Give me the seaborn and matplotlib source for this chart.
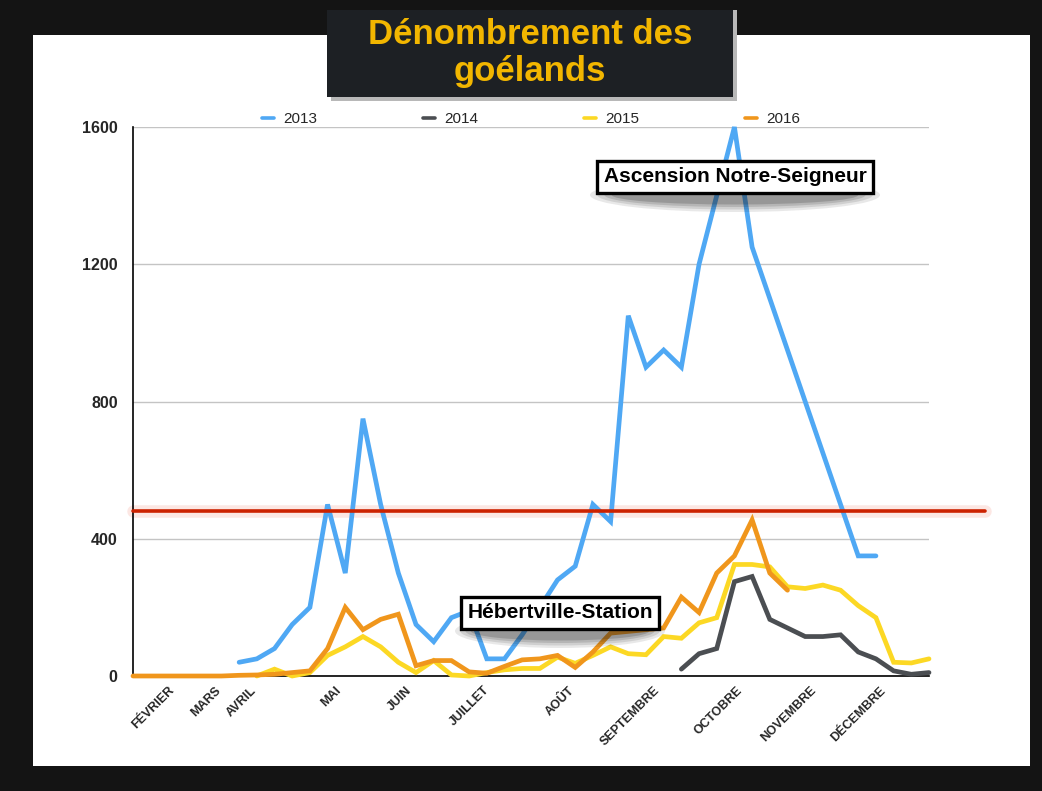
import numpy as np
import pandas as pd
import matplotlib
matplotlib.use("Agg")
import matplotlib.pyplot as plt
from matplotlib.patches import Rectangle, Ellipse
import seaborn as sns

# weekly counts, index 0 = first week of February
nan = np.nan
weeks = list(range(46))
counts_2013 = [nan] * 6 + [40, 50, 80, 150, 200, 500, 300, 750, 500, 300, 150, 100, 170, 190,
                           50, 50, 120, 200, 280, 320, 500, 450, 1050, 900, 950, 900, 1200, 1400,
                           1600, 1250, 1100, 950, 800, 650, 500, 350, 350] + [nan] * 3
counts_2014 = [nan] * 31 + [20, 65, 80, 275, 290, 165, 140, 115, 115, 120, 70, 50, 15, 5, 10]
counts_2015 = [nan] * 7 + [0, 20, 0, 10, 60, 85, 115, 85, 40, 10, 45, 3, 0, 10, 18, 22, 22, 55,
                           37, 60, 85, 65, 62, 115, 110, 155, 170, 325, 325, 318, 260, 255, 265,
                           250, 205, 170, 40, 38, 50]
counts_2016 = [0, 0, 0, 0, 0, 0, 2, 3, 5, 10, 15, 80, 200, 135, 165, 180, 30, 45, 45, 12, 8, 28,
               47, 50, 60, 25, 70, 125, 130, 135, 140, 230, 185, 300, 350, 455, 300, 250] + [nan] * 8
years = ["2013", "2014", "2015", "2016"]
colors = ["#4fa8f4", "#4b4e52", "#fcd824", "#f0961c"]
threshold = 480

month_labels = ["FÉVRIER", "MARS", "AVRIL", "MAI", "JUIN", "JUILLET", "AOÛT",
                "SEPTEMBRE", "OCTOBRE", "NOVEMBRE", "DÉCEMBRE"]
month_ticks = [2, 4.6, 6.6, 11.4, 15.4, 19.8, 24.6, 29.4, 34.1, 38.3, 42.2]

df = pd.DataFrame({
    "semaine": weeks * 4,
    "nombre": counts_2013 + counts_2014 + counts_2015 + counts_2016,
    "annee": [y for y in years for _ in weeks],
})

sns.set_style("white")
plt.rcParams["font.family"] = ["Liberation Sans", "DejaVu Sans"]

W, H = 1042, 791
fig = plt.figure(figsize=(W / 100, H / 100), dpi=100, facecolor="#141414")


def fx(x):
    return x / W


def fy(y):
    return 1 - y / H


# white slide panel
fig.patches.append(Rectangle((fx(33), fy(766)), fx(1030 - 33), (766 - 35) / H,
                             transform=fig.transFigure, fc="white", ec="none", zorder=-1))

ax = fig.add_axes([fx(133), fy(676), fx(929 - 133), (676 - 127) / H])
ax.set_facecolor("none")

sns.lineplot(data=df, x="semaine", y="nombre", hue="annee", hue_order=years,
             palette=colors, lw=3.4, ax=ax, zorder=3)
for line in ax.lines:
    line.set_clip_on(False)
    line.set_solid_joinstyle("miter")

# seuil
ax.axhline(threshold, xmin=0, xmax=(985 - 133) / (929 - 133), color="#e83a20",
           lw=9, alpha=0.12, clip_on=False, zorder=2)
ax.axhline(threshold, xmin=0, xmax=(985 - 133) / (929 - 133), color="#cc2200",
           lw=2.6, clip_on=False, zorder=4)

ax.set_xlim(0, 45)
ax.set_ylim(0, 1600)
ax.set_yticks([0, 400, 800, 1200, 1600])
ax.set_yticklabels(["0", "400", "800", "1200", "1600"], fontsize=11.5, fontweight="bold")
ax.set_xticks(month_ticks)
ax.set_xticklabels(month_labels, rotation=45, ha="right", rotation_mode="anchor",
                   fontsize=9, fontweight="bold")
ax.tick_params(axis="both", length=0)
ax.tick_params(axis="x", pad=6)
ax.tick_params(axis="y", pad=11)
ax.yaxis.grid(True, color="#c4c4c4", lw=1)
ax.set_axisbelow(True)
ax.set_xlabel("")
ax.set_ylabel("")
for s in ["top", "right"]:
    ax.spines[s].set_visible(False)
for s in ["left", "bottom"]:
    ax.spines[s].set_color("black")
    ax.spines[s].set_linewidth(1.2)

sns.move_legend(ax, "lower center", bbox_to_anchor=(0.5, 0.99), ncol=4, frameon=False,
                title=None, fontsize=11, handlelength=0.8, handletextpad=0.6,
                columnspacing=6.9, borderaxespad=0)
for h in ax.get_legend().legend_handles:
    h.set_linewidth(2.6)

# annotation boxes with shadow
for text, cx, cy, w in [("Ascension Notre-Seigneur", 735, 177, 290),
                        ("Hébertville-Station", 560, 613, 210)]:
    for k, a in enumerate([0.10, 0.12, 0.15, 0.2]):
        fig.patches.append(Ellipse((fx(cx), fy(cy + 18)), fx(w * (1 - 0.05 * k)),
                                   (34 - 5 * k) / H, transform=fig.transFigure,
                                   fc="#222222", ec="none", alpha=a, zorder=5))
    fig.text(fx(cx), fy(cy), text, ha="center", va="center", fontsize=15,
             fontweight="bold", color="black", zorder=6,
             bbox=dict(boxstyle="square,pad=0.3", fc="white", ec="black", lw=2.4))

# title box
fig.patches.append(Rectangle((fx(331), fy(101)), fx(737 - 331), 91 / H,
                             transform=fig.transFigure, fc="#b8b8b8", ec="none", zorder=6))
fig.patches.append(Rectangle((fx(327), fy(97)), fx(733 - 327), 87 / H,
                             transform=fig.transFigure, fc="#1d2024", ec="none", zorder=7))
fig.text(fx(530), fy(53), "Dénombrement des\ngoélands", ha="center", va="center",
         fontsize=25, fontweight="bold", color="#f2b600", linespacing=1.15,
         family=["Liberation Sans Narrow", "Liberation Sans", "DejaVu Sans"], zorder=8)

fig.savefig("out.png", dpi=100, facecolor=fig.get_facecolor())
